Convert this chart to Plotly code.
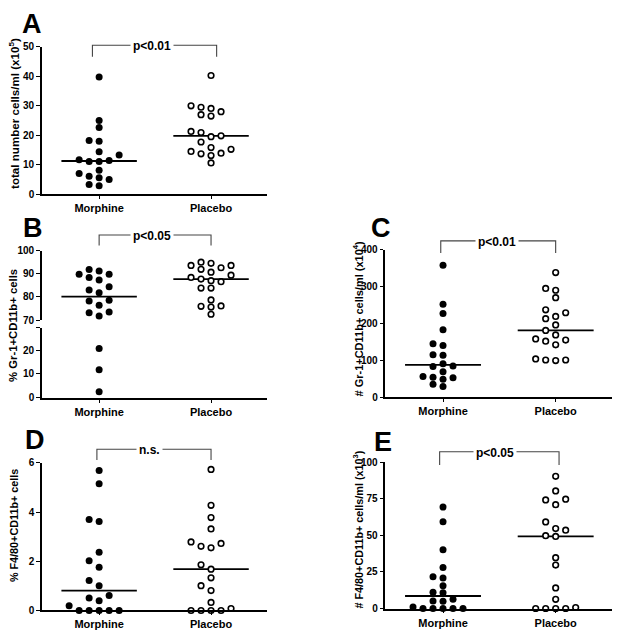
import numpy as np
import plotly.graph_objects as go

W, H = 623, 642

groups = ["Morphine", "Placebo"]

# Panel A: total number cells/ml (x10^5)
a_morphine = [39.8, 25.0, 22.6, 18.0, 18.2, 14.4, 13.3, 11.4, 11.1, 11.1, 11.7, 8.1, 7.0, 6.1, 5.0, 5.6, 2.8, 3.3]
a_placebo = [40.3, 29.5, 28.0, 30.0, 26.5, 27.0, 29.1, 19.8, 21.3, 19.5, 20.9, 17.7, 15.8, 14.5, 13.7, 13.9, 15.2, 13.1, 10.6]

# Panel B: % Gr-1+CD11b+ cells (broken axis)
b_morphine = [91.2, 89.8, 91.8, 89.8, 87.3, 88.4, 83.0, 84.4, 81.8, 78.5, 78.2, 76.4, 73.1, 73.5, 71.7, 20.7, 11.8, 2.5]
b_placebo = [94.5, 93.6, 93.6, 95.0, 92.6, 91.9, 90.7, 89.4, 86.6, 88.4, 87.7, 87.0, 83.8, 83.8, 78.7, 75.9, 75.6, 76.1, 72.5]

# Panel C: # Gr-1+CD11b+ cells/ml (x10^4)
c_morphine = [358, 252, 227, 183, 145, 140, 114, 115, 91, 83, 85, 69, 54, 49, 53, 56, 35, 29]
c_placebo = [338, 295, 290, 270, 237, 219, 213, 229, 196, 169, 181, 158, 152, 142, 155, 101, 99.5, 101, 104]

# Panel D: % F4/80+CD11b+ cells
d_morphine = [5.69, 5.16, 3.70, 3.62, 2.37, 2.02, 1.76, 1.22, 1.01, 0.61, 0.51, 0.40, 0.19, 0, 0, 0, 0, 0]
d_placebo = [5.74, 4.28, 3.78, 3.32, 2.73, 2.55, 2.61, 2.79, 1.86, 1.68, 1.33, 1.01, 0.81, 0.33, 0.08, 0, 0, 0, 0]

# Panel E: # F4/80+CD11b+ cells/ml (x10^3)
e_morphine = [69.4, 59.4, 40.2, 28.0, 21.8, 20.9, 15.5, 11.2, 10.8, 6.3, 5.1, 4.9, 1.1, 0, 0, 0, 0, 0]
e_placebo = [90.4, 80.4, 74.3, 74.8, 71.0, 59.2, 54.7, 53.6, 49.8, 49.3, 34.8, 29.7, 14.1, 6.3, 0.7, 0, 0, 0, 0]

a_ticks = [0, 10, 20, 30, 40, 50]
b_ticks_upper = [70, 80, 90, 100]
b_ticks_lower = [0, 10, 20]
c_ticks = [0, 100, 200, 300, 400]
d_ticks = [0, 2, 4, 6]
e_ticks = [0, 25, 50, 75, 100]

titles = {
    "A": "total number cells/ml (x10<sup>5</sup>)",
    "B": "% Gr-1+CD11b+ cells",
    "C": "# Gr-1+CD11b+ cells/ml (x10<sup>4</sup>)",
    "D": "% F4/80+CD11b+ cells",
    "E": "# F4/80+CD11b+ cells/ml (x10<sup>3</sup>)",
}
pvals = {"A": "p&lt;0.01", "B": "p&lt;0.05", "C": "p&lt;0.01", "D": "n.s.", "E": "p&lt;0.05"}

FONT = "Arial, Liberation Sans, Helvetica, sans-serif"
NARROW = "Liberation Sans Narrow, Arial Narrow, Liberation Sans, Arial, sans-serif"
XR = [-0.515, 1.5]
MED_HALF = 0.337

# panel boxes in px: (left, right, top, bottom)
BOX_A = (41.5, 267.0, 41.7, 191.7)
BOX_B_UP = (41.5, 267.0, 249.3, 320.0)
BOX_B_LO = (41.5, 267.0, 328.0, 399.3)
BOX_C = (385.0, 612.0, 248.3, 398.7)
BOX_D = (41.5, 267.0, 465.7, 616.0)
BOX_E = (385.0, 612.0, 465.0, 614.0)

B_LO_TOP = 29.3


def xdom(b):
    return [b[0] / W, b[1] / W]


def ydom(b):
    return [1 - b[3] / H, 1 - b[2] / H]


def py(p):
    return 1 - p / H


def ppx(b):
    return (b[1] - b[0]) / (XR[1] - XR[0])


def lin_height(box, rng):
    k = (box[3] - box[2]) / (rng[1] - rng[0])
    return lambda v: (v - rng[0]) * k


def b_height(v):
    lo_k = (BOX_B_LO[3] - BOX_B_LO[2]) / B_LO_TOP
    up_k = (BOX_B_UP[3] - BOX_B_UP[2]) / 30.0
    if v < 50:
        return v * lo_k
    return (BOX_B_LO[3] - BOX_B_UP[3]) + (v - 70) * up_k


def swarm(vals, height_px, px_per_x, slot_px=10.0, min_dy=7.0):
    vals = np.asarray(vals, float)
    hs = np.array([height_px(v) for v in vals])
    order = np.argsort(hs, kind="stable")
    placed = {}
    off = np.zeros(len(vals))
    tries = [0, -1, 1, -2, 2, -3, 3, -4, 4, -5, 5]
    for i in order:
        s = 0
        for s in tries:
            if all(abs(hs[i] - q) >= min_dy for q in placed.get(s, [])):
                break
        placed.setdefault(s, []).append(hs[i])
        off[i] = s * slot_px / px_per_x
    return off


def xax(box, anchor):
    return dict(
        domain=xdom(box), range=XR, anchor=anchor, tickvals=[0, 1], ticktext=groups,
        showline=True, linecolor="black", linewidth=1.6, ticks="outside", ticklen=3,
        tickwidth=1.4, tickcolor="black", showgrid=False, zeroline=False, fixedrange=True,
        tickfont=dict(family=FONT, size=11, color="black", weight="bold"),
    )


def yax(box, rng, tickvals, anchor, ticktext=None):
    d = dict(
        domain=ydom(box), range=rng, anchor=anchor, tickvals=tickvals,
        showline=True, linecolor="black", linewidth=1.6, ticks="outside", ticklen=3.5,
        tickwidth=1.4, tickcolor="black", showgrid=False, zeroline=False, fixedrange=True,
        tickfont=dict(family=NARROW, size=10, color="black", weight="bold"),
    )
    if ticktext is not None:
        d["ticktext"] = ticktext
    return d


fig = go.Figure()

FILLED = dict(symbol="circle", size=7, color="black", line=dict(width=0))
OPEN = dict(symbol="circle", size=5.6, color="white", line=dict(color="black", width=1.6))


def add_group(xa, ya, center, vals, offsets, marker, med=None):
    vals = np.asarray(vals, float)
    if med is not None:
        fig.add_trace(go.Scatter(
            x=[center - MED_HALF, center + MED_HALF], y=[med, med], mode="lines",
            line=dict(color="black", width=1.8), xaxis=xa, yaxis=ya,
            showlegend=False, hoverinfo="skip"))
    fig.add_trace(go.Scatter(
        x=center + offsets, y=vals, mode="markers", marker=marker, xaxis=xa, yaxis=ya,
        cliponaxis=False, showlegend=False))


# Panels A, C, D, E
simple = [
    ("x", "y", BOX_A, [0, 50], a_morphine, a_placebo),
    ("x3", "y4", BOX_C, [0, 400], c_morphine, c_placebo),
    ("x4", "y5", BOX_D, [0, 6], d_morphine, d_placebo),
    ("x5", "y6", BOX_E, [0, 100], e_morphine, e_placebo),
]
for xa, ya, box, rng, mor, pla in simple:
    hfun = lin_height(box, rng)
    for ci, (vals, mk) in enumerate([(mor, FILLED), (pla, OPEN)]):
        off = swarm(vals, hfun, ppx(box))
        add_group(xa, ya, ci, vals, off, mk, med=float(np.median(vals)))

# Panel B (broken axis)
for ci, (vals, mk) in enumerate([(b_morphine, FILLED), (b_placebo, OPEN)]):
    vals = np.asarray(vals, float)
    off = swarm(vals, b_height, ppx(BOX_B_LO))
    up = vals >= 50
    med = float(np.median(vals))
    fig.add_trace(go.Scatter(
        x=[ci - MED_HALF, ci + MED_HALF], y=[med, med], mode="lines",
        line=dict(color="black", width=1.8), xaxis="x2", yaxis="y2",
        showlegend=False, hoverinfo="skip"))
    fig.add_trace(go.Scatter(x=ci + off[up], y=vals[up], mode="markers", marker=mk,
                             xaxis="x2", yaxis="y2", cliponaxis=False, showlegend=False))
    fig.add_trace(go.Scatter(x=ci + off[~up], y=vals[~up], mode="markers", marker=mk,
                             xaxis="x2", yaxis="y3", cliponaxis=False, showlegend=False))

fig.update_layout(
    width=W, height=H, margin=dict(l=0, r=0, t=0, b=0),
    paper_bgcolor="white", plot_bgcolor="white", showlegend=False,
    font=dict(family=FONT, color="black"),
    xaxis=xax(BOX_A, "y"),
    yaxis=yax(BOX_A, [0, 50], a_ticks, "x"),
    xaxis2=xax(BOX_B_LO, "y3"),
    yaxis2=yax(BOX_B_UP, [70, 100], b_ticks_upper, "x2"),
    yaxis3=yax(BOX_B_LO, [0, B_LO_TOP], b_ticks_lower + [B_LO_TOP], "x2",
               ticktext=[str(t) for t in b_ticks_lower] + [""]),
    xaxis3=xax(BOX_C, "y4"),
    yaxis4=yax(BOX_C, [0, 400], c_ticks, "x3"),
    xaxis4=xax(BOX_D, "y5"),
    yaxis5=yax(BOX_D, [0, 6], d_ticks, "x4"),
    xaxis5=xax(BOX_E, "y6"),
    yaxis6=yax(BOX_E, [0, 100], e_ticks, "x5"),
)

shapes = []
annotations = []

brackets = [
    ("A", "x", -0.06, 1.05, 40.0, 51.7, 0.47),
    ("B", "x2", 0.0, 1.0, 233.3, 244.0, 0.47),
    ("C", "x3", -0.02, 1.0, 239.3, 251.7, 0.48),
    ("D", "x4", -0.02, 1.0, 451.7, 462.7, 0.45),
    ("E", "x5", -0.03, 1.03, 454.3, 467.7, 0.46),
]
for key, xa, x0, x1, top, bot, tx in brackets:
    shapes.append(dict(
        type="path", xref=xa, yref="paper",
        path=f"M {x0},{py(bot)} L {x0},{py(top)} L {x1},{py(top)} L {x1},{py(bot)}",
        line=dict(color="#444444", width=1.1)))
    annotations.append(dict(
        text=pvals[key], xref=xa, yref="paper", x=tx, y=py(top + 1.0),
        xanchor="center", yanchor="middle", showarrow=False, bgcolor="white", borderpad=2,
        font=dict(family=FONT, size=12, color="black", weight="bold")))

letters = [("A", 32.3, 18.8), ("B", 33.3, 226.7), ("C", 381.0, 226.5), ("D", 35.0, 442.5), ("E", 383.0, 444.0)]
for t, xp, yp in letters:
    annotations.append(dict(
        text=t, xref="paper", yref="paper", x=xp / W, y=py(yp), xanchor="center", yanchor="middle",
        showarrow=False, font=dict(family=FONT, size=27, color="black", weight="bold")))

ytitles = [
    ("A", 14.0, 110.0, 11.6),
    ("B", 13.0, 326.0, 11.3),
    ("C", 358.5, 319.0, 11.0),
    ("D", 14.0, 530.0, 10.8),
    ("E", 358.5, 534.0, 10.8),
]
for k, xp, yp, fs in ytitles:
    annotations.append(dict(
        text=titles[k], xref="paper", yref="paper", x=xp / W, y=py(yp), xanchor="center",
        yanchor="middle", textangle=-90, showarrow=False,
        font=dict(family=FONT, size=fs, color="black", weight="bold")))

fig.update_layout(shapes=shapes, annotations=annotations)

fig.write_html(
    "out.html",
    config={"displayModeBar": False},
    post_script="document.body.style.margin='0px';document.body.style.overflow='hidden';",
)
